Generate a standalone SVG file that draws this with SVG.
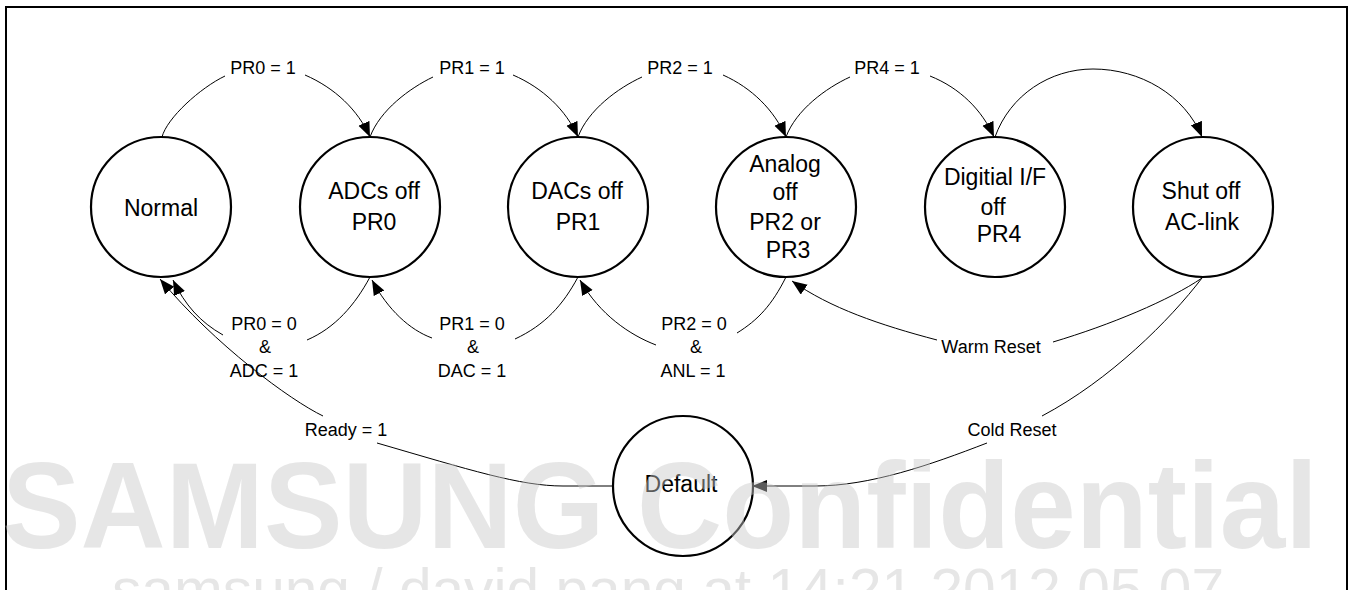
<svg xmlns="http://www.w3.org/2000/svg" width="1353" height="590" viewBox="0 0 1353 590">
<style>
.node{fill:#fff;stroke:#000;stroke-width:2.2}
.nt{font-family:"Liberation Sans",Arial,sans-serif;font-size:23px;fill:#000;text-anchor:middle}
.lt{font-family:"Liberation Sans",Arial,sans-serif;font-size:18px;fill:#000;text-anchor:middle}
.c{fill:none;stroke:#000;stroke-width:1}
.wm{font-family:"Liberation Sans",Arial,sans-serif;fill:#c8c8c8;fill-opacity:0.45}
</style>
<defs>
<marker id="ah" markerUnits="userSpaceOnUse" markerWidth="16" markerHeight="14" refX="15" refY="6" orient="auto">
<path d="M0,0 L15,6 L0,12 z" fill="#000"/>
</marker>
</defs>
<rect width="1353" height="590" fill="#fff"/>
<path d="M6,590 V7 H1347 V590" fill="none" stroke="#000" stroke-width="2"/>

<g id="connectors">
<path class="c" d="M162,137 C167,118 200,88 225,76"/>
<path class="c" d="M305,75 C335,88 358,110 370,137" marker-end="url(#ah)"/>
<path class="c" d="M370,137 C380,110 410,88 433,77"/>
<path class="c" d="M513,75 C543,88 566,110 578,137" marker-end="url(#ah)"/>
<path class="c" d="M578,137 C588,110 618,88 642,77"/>
<path class="c" d="M723,75 C752,88 774,110 786,137" marker-end="url(#ah)"/>
<path class="c" d="M786,137 C796,110 826,88 850,77"/>
<path class="c" d="M930,76 C960,88 982,110 994,137" marker-end="url(#ah)"/>
<path class="c" d="M995,137 C1010,95 1050,69 1093,69 C1140,69 1185,95 1202,137" marker-end="url(#ah)"/>

<path class="c" d="M370,277 C355,305 335,328 307,340"/>
<path class="c" d="M223,335 C200,322 185,305 173,280" marker-end="url(#ah)"/>
<path class="c" d="M578,277 C563,305 545,325 515,339"/>
<path class="c" d="M432,338 C410,330 388,310 372,280" marker-end="url(#ah)"/>
<path class="c" d="M786,277 C772,305 758,320 737,333"/>
<path class="c" d="M656,345 C630,335 600,315 580,280" marker-end="url(#ah)"/>
<path class="c" d="M1202,278 C1170,300 1110,325 1053,342"/>
<path class="c" d="M937,340 C880,325 830,308 792,281" marker-end="url(#ah)"/>
<path class="c" d="M1202,278 C1170,320 1110,380 1042,416"/>
<path class="c" d="M987,443 C930,465 870,486 815,486 L752,486" marker-end="url(#ah)"/>
<path class="c" d="M613,486 L563,486 C520,486 470,470 377,443"/>
<path class="c" d="M323,416 C290,400 215,345 160,279" marker-end="url(#ah)"/>
</g>

<g id="labels">
<text class="lt" x="263" y="74">PR0 = 1</text>
<text class="lt" x="472" y="74">PR1 = 1</text>
<text class="lt" x="680" y="74">PR2 = 1</text>
<text class="lt" x="887" y="74">PR4 = 1</text>
<text class="lt" x="264" y="330">PR0 = 0</text>
<text class="lt" x="265" y="353">&amp;</text>
<text class="lt" x="264" y="377">ADC = 1</text>
<text class="lt" x="472" y="330">PR1 = 0</text>
<text class="lt" x="473" y="353">&amp;</text>
<text class="lt" x="472" y="377">DAC = 1</text>
<text class="lt" x="694" y="330">PR2 = 0</text>
<text class="lt" x="696" y="353">&amp;</text>
<text class="lt" x="693" y="377">ANL = 1</text>
<text class="lt" x="346" y="436">Ready = 1</text>
<text class="lt" x="991" y="353">Warm Reset</text>
<text class="lt" x="1012" y="436">Cold Reset</text>
</g>

<g id="normal"><circle class="node" cx="161" cy="207" r="70"/><text class="nt" x="161" y="216">Normal</text></g>
<g id="adcs"><circle class="node" cx="370" cy="207" r="70"/><text class="nt" x="374" y="199">ADCs off</text><text class="nt" x="374" y="230">PR0</text></g>
<g id="dacs"><circle class="node" cx="578" cy="207" r="70"/><text class="nt" x="577" y="199">DACs off</text><text class="nt" x="578" y="230">PR1</text></g>
<g id="analog"><circle class="node" cx="786" cy="207" r="70"/><text class="nt" x="785" y="172">Analog</text><text class="nt" x="785" y="200">off</text><text class="nt" x="785" y="230">PR2 or</text><text class="nt" x="788" y="258">PR3</text></g>
<g id="digital"><circle class="node" cx="995" cy="207" r="70"/><text class="nt" x="995" y="185">Digitial I/F</text><text class="nt" x="993" y="215">off</text><text class="nt" x="999" y="242">PR4</text></g>
<g id="shutoff"><circle class="node" cx="1203" cy="207" r="70"/><text class="nt" x="1201" y="199">Shut off</text><text class="nt" x="1202" y="230">AC-link</text></g>
<g id="default"><circle class="node" cx="683" cy="486" r="70"/><text class="nt" x="681" y="492">Default</text></g>

<g id="watermark">
<text class="wm" x="2" y="548" font-size="123" font-weight="bold" textLength="1316" lengthAdjust="spacingAndGlyphs">SAMSUNG Confidential</text>
<text class="wm" x="112" y="609" font-size="58" textLength="1112" lengthAdjust="spacingAndGlyphs">samsung / david pang at 14:21 2012.05.07</text>
</g>
</svg>
